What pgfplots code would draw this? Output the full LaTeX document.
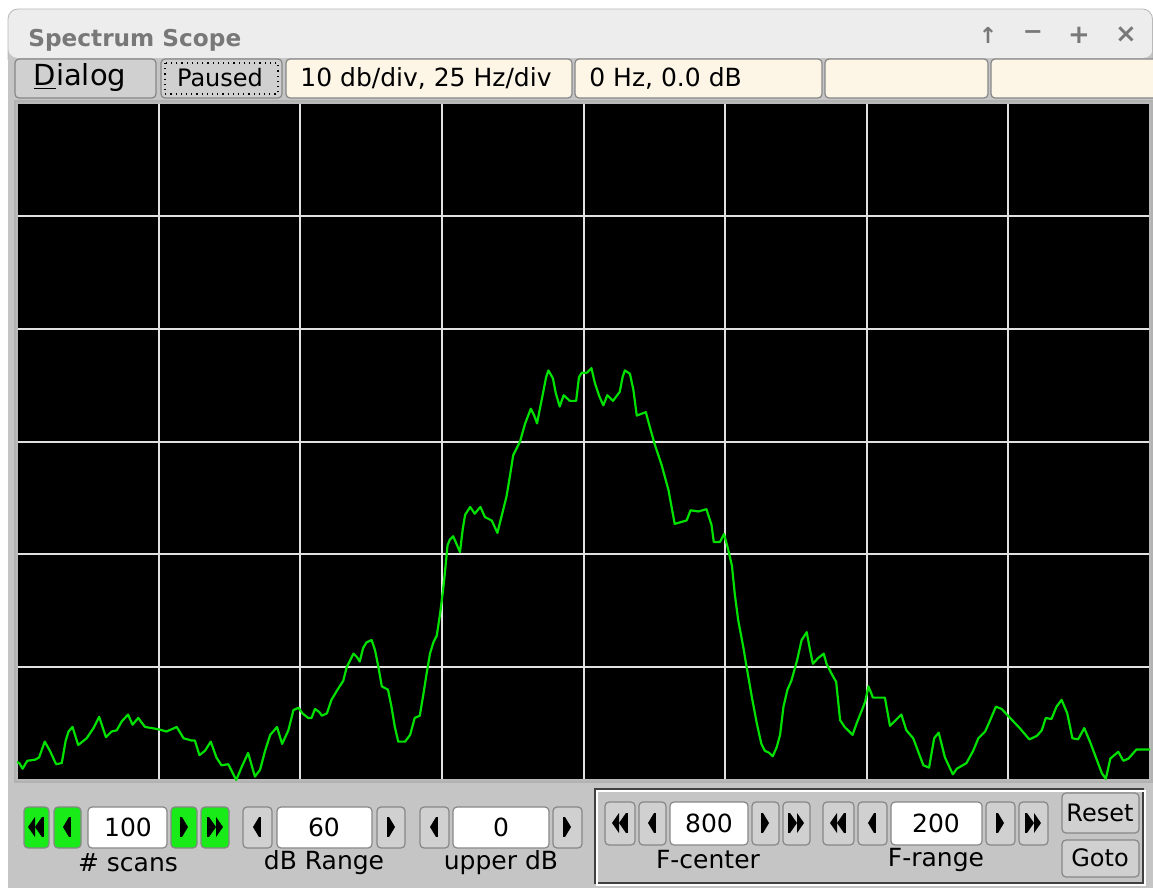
\documentclass[border=0pt]{standalone}
\usepackage{pgfplots}
\pgfplotsset{compat=1.18}
\usepackage{fontspec}
\setmainfont{DejaVu Sans}
\definecolor{winbg}{RGB}{197,197,197}
\definecolor{titlebg}{RGB}{237,237,237}
\definecolor{titlegray}{RGB}{120,120,120}
\definecolor{cream}{RGB}{253,245,230}
\definecolor{btn}{RGB}{208,208,208}
\definecolor{edge}{RGB}{135,135,135}
\definecolor{trace}{RGB}{0,225,0}
\definecolor{gridc}{RGB}{225,225,225}
\definecolor{btngreen}{RGB}{25,235,25}
\newcommand{\fs}[1]{\fontsize{#1}{#1}\selectfont}
% button: x1 y1 x2 y2 colour
\newcommand{\btn}[5]{\draw[fill=#5, draw=edge, line width=0.6pt, rounded corners=2pt] (#1,#2) rectangle (#3,#4);}
% arrow glyphs, centre cx cy (y downwards)
\newcommand{\la}[2]{\fill[black] (#1-4,#2) -- (#1+2,#2-10) -- (#1+2,#2+10) -- cycle; \fill[black] (#1+2,#2-10) rectangle (#1+4,#2+10);}
\newcommand{\ra}[2]{\fill[black] (#1+4,#2) -- (#1-2,#2-10) -- (#1-2,#2+10) -- cycle; \fill[black] (#1-2,#2-10) rectangle (#1-4,#2+10);}
\newcommand{\lla}[2]{\fill[black] (#1-8,#2) -- (#1-1,#2-10) -- (#1-1,#2+10) -- cycle; \fill[black] (#1-1,#2) -- (#1+6,#2-10) -- (#1+6,#2+10) -- cycle; \fill[black] (#1+6,#2-10) rectangle (#1+8,#2+10);}
\newcommand{\rra}[2]{\fill[black] (#1+8,#2) -- (#1+1,#2-10) -- (#1+1,#2+10) -- cycle; \fill[black] (#1+1,#2) -- (#1-6,#2-10) -- (#1-6,#2+10) -- cycle; \fill[black] (#1-6,#2-10) rectangle (#1-8,#2+10);}
\begin{document}
\begin{tikzpicture}
\begin{scope}[x=0.5pt,y=-0.5pt]
\path[use as bounding box] (0,0) rectangle (1153,888);
\fill[white] (0,0) rectangle (1153,888);
% window body
\fill[winbg] (8,40) rectangle (1153,888);
% title bar
\fill[titlebg, rounded corners=5pt] (8,58) -- (8,9) -- (1153,9) -- (1153,58) -- cycle;
\draw[gray!55, rounded corners=5pt] (8,60) -- (8,9) -- (1152.5,9) -- (1152.5,60);
\node[anchor=base west, text=titlegray, font=\bfseries\fs{11.6pt}, inner sep=0pt] at (28,47) {Spectrum Scope};
\node[text=titlegray, font=\bfseries\fs{11pt}] at (988,35) {↑};
\node[text=titlegray, font=\bfseries\fs{12pt}] at (1033,35) {−};
\node[text=titlegray, font=\bfseries\fs{13pt}] at (1079,35) {+};
\node[text=titlegray, font=\bfseries\fs{13pt}] at (1126,35) {×};
% button row
\btn{15}{59}{156}{98}{btn}
\node[font=\fs{14.5pt}] at (80,78) {\underline{D}ialog};
\btn{161}{59}{282}{98}{btn}
\draw[black, dotted, line width=0.6pt] (165,63) rectangle (278,94);
\node[font=\fs{12pt}] at (220,78) {Paused};
\btn{286}{59}{572}{98}{cream}
\node[anchor=west, font=\fs{12.5pt}, inner sep=0pt] at (300,78) {10 db/div, 25 Hz/div};
\btn{575}{59}{822}{98}{cream}
\node[anchor=west, font=\fs{12.5pt}, inner sep=0pt] at (589,78) {0 Hz, 0.0 dB};
\btn{825}{59}{988}{98}{cream}
\btn{991}{59}{1160}{98}{cream}
% plot frame
\fill[gray!60] (14,100) rectangle (1153,783);
% bottom panel, left group
\btn{24}{807}{49}{848}{btngreen}
\btn{54}{807}{81}{848}{btngreen}
\btn{88}{807}{167}{848}{white}
\btn{171}{807}{197}{848}{btngreen}
\btn{201}{807}{229}{848}{btngreen}
\lla{36}{827} \la{67}{827} \ra{184}{827} \rra{215}{827}
\node[font=\fs{12.5pt}] at (128,827) {100};
\node[font=\fs{12.5pt}] at (128,863) {\# scans};
\btn{243}{807}{272}{848}{btn}
\btn{277}{807}{372}{848}{white}
\btn{377}{807}{405}{848}{btn}
\la{257}{827} \ra{391}{827}
\node[font=\fs{12.5pt}] at (324,827) {60};
\node[font=\fs{12.5pt}] at (324,863) {dB Range};
\btn{420}{807}{449}{848}{btn}
\btn{453}{807}{549}{848}{white}
\btn{553}{807}{582}{848}{btn}
\la{434}{827} \ra{567}{827}
\node[font=\fs{12.5pt}] at (501,827) {0};
\node[font=\fs{12.5pt}] at (501,863) {upper dB};
% right panel
\draw[gray!50!black, line width=0.6pt] (595,789) rectangle (1143,883);
\draw[white, line width=0.6pt] (597,791) rectangle (1145,885);
\btn{605}{802}{635}{845}{btn}
\btn{639}{802}{666}{845}{btn}
\btn{670}{802}{748}{845}{white}
\btn{752}{802}{779}{845}{btn}
\btn{783}{802}{810}{845}{btn}
\lla{620}{823} \la{652}{823} \ra{765}{823} \rra{796}{823}
\node[font=\fs{12.5pt}] at (709,823) {800};
\node[font=\fs{12.5pt}] at (708,860) {F-center};
\btn{823}{802}{854}{845}{btn}
\btn{858}{802}{887}{845}{btn}
\btn{891}{802}{982}{845}{white}
\btn{986}{802}{1015}{845}{btn}
\btn{1019}{802}{1048}{845}{btn}
\lla{838}{823} \la{872}{823} \ra{1000}{823} \rra{1033}{823}
\node[font=\fs{12.5pt}] at (936,823) {200};
\node[font=\fs{12.5pt}] at (936,860) {F-range};
\btn{1062}{793}{1139}{833}{btn}
\node[font=\fs{12pt}] at (1100,813) {Reset};
\btn{1062}{840}{1139}{877}{btn}
\node[font=\fs{12pt}] at (1100,858) {Goto};
\end{scope}
\begin{axis}[
  at={(8.5pt,-390pt)}, anchor=south west,
  scale only axis, width=566.5pt, height=338.5pt,
  xmin=700, xmax=900, ymin=-60, ymax=0,
  xtick={725,750,...,875}, ytick={-50,-40,...,-10},
  xticklabels={}, yticklabels={},
  major tick length=0pt,
  grid=major,
  major grid style={draw=gridc, line width=1pt},
  axis background/.style={fill=black},
  axis line style={draw=gray!55, line width=1pt},
]
\addplot[trace, line width=1.1pt, line join=round, mark=none] table {
x y
700.0 -58.4
700.4 -58.5
701.0 -59.0
701.8 -58.3
703.2 -58.2
703.9 -58.0
704.9 -56.6
705.8 -57.4
706.9 -58.6
707.9 -58.5
708.6 -56.5
709.1 -55.7
709.8 -55.3
710.8 -56.9
712.3 -56.3
713.5 -55.4
714.5 -54.4
715.7 -56.2
716.7 -55.7
717.6 -55.6
718.5 -54.8
719.6 -54.2
720.4 -55.1
721.4 -54.5
722.6 -55.3
723.8 -55.4
724.9 -55.5
726.4 -55.7
728.2 -55.3
729.4 -56.3
730.8 -56.5
731.4 -56.5
732.2 -57.8
733.2 -57.4
734.2 -56.6
735.2 -58.0
736.1 -58.7
737.3 -58.6
738.7 -60.0
739.7 -58.8
740.8 -57.6
742.0 -59.7
742.9 -59.1
743.8 -57.4
744.7 -56.0
745.9 -55.3
746.8 -56.8
747.9 -55.6
748.8 -53.8
749.7 -53.6
750.4 -54.1
751.4 -54.5
752.0 -54.5
752.6 -53.7
753.4 -54.0
753.8 -54.3
754.7 -54.1
755.5 -52.9
756.7 -51.9
757.6 -51.2
758.2 -50.0
759.4 -48.8
760.0 -49.1
760.5 -49.5
761.1 -48.3
761.7 -47.8
762.6 -47.6
763.2 -48.5
763.8 -50.0
764.4 -51.7
765.5 -52.0
766.1 -53.5
766.7 -55.3
767.3 -56.6
768.5 -56.6
769.4 -56.0
770.2 -54.5
771.1 -54.3
771.7 -52.5
772.3 -50.6
772.9 -48.8
773.5 -47.8
774.1 -47.2
774.7 -45.2
775.2 -43.2
775.5 -41.8
776.0 -39.2
776.4 -38.7
777.0 -38.4
777.6 -39.1
778.2 -39.8
778.7 -37.7
779.1 -36.5
780.0 -35.8
780.8 -36.4
781.8 -35.8
782.6 -36.7
783.8 -37.0
784.8 -38.1
785.6 -36.5
786.4 -34.9
787.0 -33.1
787.6 -31.2
788.8 -30.0
789.7 -28.4
790.7 -27.1
791.3 -27.7
791.8 -28.4
792.3 -27.1
792.9 -25.6
793.4 -24.3
793.8 -23.7
794.6 -24.4
795.1 -25.7
795.8 -26.9
796.5 -25.9
797.6 -26.4
798.7 -26.4
799.2 -24.3
799.7 -23.9
800.6 -23.9
801.4 -23.5
802.0 -24.8
802.8 -26.0
803.5 -26.8
804.2 -25.9
805.2 -26.4
806.4 -25.6
806.9 -24.3
807.3 -23.7
808.2 -24.0
808.8 -25.4
809.4 -27.7
811.0 -27.4
811.7 -28.7
812.6 -30.3
813.8 -32.1
815.0 -34.3
816.1 -37.3
818.2 -37.0
818.9 -36.1
820.3 -36.2
821.7 -36.0
822.6 -37.4
823.0 -38.9
824.1 -38.9
824.8 -38.2
825.4 -39.3
826.2 -41.0
826.7 -43.5
827.3 -45.8
828.2 -48.2
828.8 -50.0
829.7 -52.6
830.6 -55.0
831.4 -56.8
832.0 -57.4
832.8 -57.6
833.4 -57.9
834.1 -57.1
834.7 -56.0
835.3 -53.5
836.0 -52.0
836.7 -51.2
837.7 -49.4
838.5 -47.6
839.4 -46.9
840.0 -48.5
840.5 -49.7
841.4 -49.2
842.4 -48.8
842.9 -49.7
843.8 -50.6
844.6 -51.3
845.3 -54.7
846.1 -55.3
847.5 -56.0
848.2 -55.0
849.7 -53.1
850.3 -51.7
851.1 -52.7
853.2 -52.7
854.1 -55.2
856.1 -54.2
857.0 -55.6
858.2 -56.3
860.0 -58.7
861.0 -58.9
861.9 -56.3
862.7 -55.8
863.8 -58.0
865.2 -59.5
865.9 -59.0
867.6 -58.5
868.8 -57.4
869.7 -56.3
870.9 -55.7
871.7 -54.8
872.8 -53.5
873.8 -53.7
875.3 -54.5
877.0 -55.4
878.7 -56.4
880.0 -56.1
880.9 -55.6
881.6 -54.5
882.6 -54.6
883.5 -53.5
884.4 -52.9
885.4 -54.1
886.3 -56.3
887.3 -56.4
888.4 -55.4
889.4 -56.6
890.6 -58.2
891.5 -59.4
892.2 -59.9
893.0 -58.1
894.4 -57.5
895.3 -58.3
896.2 -58.1
897.6 -57.3
899.3 -57.3
900.0 -57.3
};
\end{axis}
\end{tikzpicture}
\end{document}
